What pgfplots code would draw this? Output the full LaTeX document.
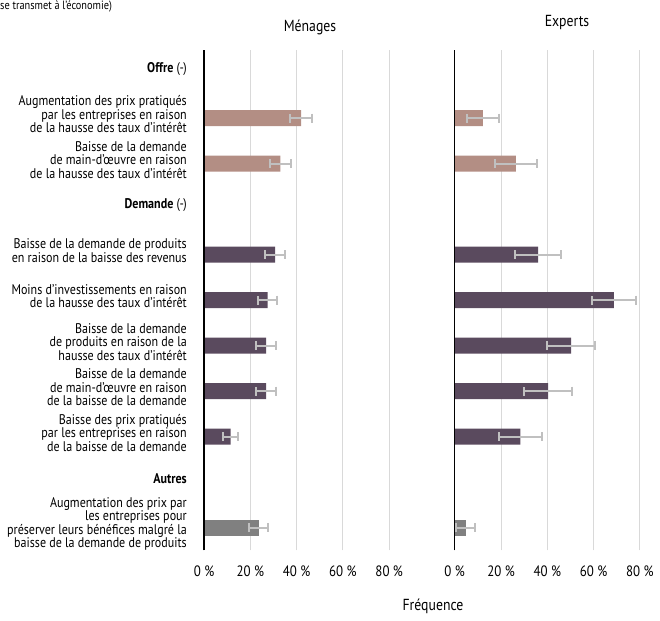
\documentclass[border=0pt]{standalone}
\usepackage{pgfplots}
\pgfplotsset{compat=1.18}
\usepackage{pgfplotstable}
\usepackage{fontspec}
\setmainfont{PT Sans}[FakeStretch=0.86]
\definecolor{offre}{HTML}{B38E84}
\definecolor{dem}{HTML}{5A4A5E}
\definecolor{autres}{HTML}{808080}
\definecolor{errc}{HTML}{C0C0C0}
\definecolor{gridc}{HTML}{D9D9D9}

% Ménages
\pgfplotstableread{
y x e
9 0.42 0.047
8 0.33 0.045
}\menOffre
\pgfplotstableread{
y x e
6 0.307 0.044
5 0.275 0.042
4 0.268 0.042
3 0.268 0.042
2 0.115 0.033
}\menDem
\pgfplotstableread{
y x e
0 0.236 0.040
}\menAut
% Experts
\pgfplotstableread{
y x e
9 0.122 0.069
8 0.264 0.092
}\expOffre
\pgfplotstableread{
y x e
6 0.360 0.100
5 0.688 0.096
4 0.503 0.104
3 0.403 0.103
2 0.284 0.094
}\expDem
\pgfplotstableread{
y x e
0 0.047 0.040
}\expAut

\pgfplotsset{
  panel/.style={
    scale only axis,
    x=231.5pt, y=45.5pt,
    xmin=0, ymin=-0.5, ymax=10.5,
    axis line style={draw=none},
    major tick length=0pt,
    xtick={0,0.2,0.4,0.6,0.8},
    xticklabels={0 \%,20 \%,40 \%,60 \%,80 \%},
    xmajorgrids,
    grid style={gridc, line width=1pt},
    xticklabel style={anchor=center, yshift=-21pt, font=\fontsize{15}{16}\selectfont},
    clip=false,
  },
  barstyle/.style={xbar, bar width=16pt, bar shift=0pt, draw=none, fill=#1,
    error bars/.cd, x dir=both, x explicit,
    error bar style={color=errc, line width=2pt},
    error mark options={color=errc, line width=2pt, mark size=4.5pt, rotate=90}},
}

\begin{document}
\begin{tikzpicture}
\useasboundingbox (0,0) rectangle (660pt,620pt);

\node[anchor=north west, inner sep=0pt, font=\fontsize{12}{13}\selectfont] at (0pt,619pt) {se transmet à l’économie)};

\begin{axis}[panel, xmax=0.9,
  at={(204pt,69.5pt)}, anchor=south west,
  ytick={0,1,2,3,4,5,6,7,8,9,10},
  yticklabels={
    {Augmentation des prix par\\les entreprises pour\\préserver leurs bénéfices malgré la\\baisse de la demande de produits},
    {\textbf{Autres}},
    {Baisse des prix pratiqués\\par les entreprises en raison\\de la baisse de la demande},
    {Baisse de la demande\\de main-d’œuvre en raison\\de la baisse de la demande},
    {Baisse de la demande\\de produits en raison de la\\hausse des taux d’intérêt},
    {Moins d’investissements en raison\\de la hausse des taux d’intérêt},
    {Baisse de la demande de produits\\en raison de la baisse des revenus},
    {\textbf{Demande} (-)},
    {Baisse de la demande\\de main-d’œuvre en raison\\de la hausse des taux d’intérêt},
    {Augmentation des prix pratiqués\\par les entreprises en raison\\de la hausse des taux d’intérêt},
    {\textbf{Offre} (-)}
  },
  yticklabel style={align=right, anchor=east, inner sep=0pt, xshift=-17pt, yshift=4pt,
    font=\fontsize{14}{13.4}\selectfont},
]
\addplot[barstyle=offre] table[x=x, y=y, x error=e] {\menOffre};
\addplot[barstyle=dem] table[x=x, y=y, x error=e] {\menDem};
\addplot[barstyle=autres] table[x=x, y=y, x error=e] {\menAut};
\draw[black, line width=1.5pt] (axis cs:0,-0.5) -- (axis cs:0,10.5);
\end{axis}

\begin{axis}[panel, xmax=0.88,
  at={(454.7pt,69.5pt)}, anchor=south west,
  ytick=\empty,
]
\addplot[barstyle=offre] table[x=x, y=y, x error=e] {\expOffre};
\addplot[barstyle=dem] table[x=x, y=y, x error=e] {\expDem};
\addplot[barstyle=autres] table[x=x, y=y, x error=e] {\expAut};
\draw[black, line width=1.5pt] (axis cs:0,-0.5) -- (axis cs:0,10.5);
\end{axis}

\node[font=\fontsize{16}{17}\selectfont] at (310pt,593pt) {Ménages};
\node[font=\fontsize{16}{17}\selectfont] at (567pt,597pt) {Experts};
\node[font=\fontsize{16}{17}\selectfont] at (433pt,14pt) {Fréquence};
\end{tikzpicture}
\end{document}
